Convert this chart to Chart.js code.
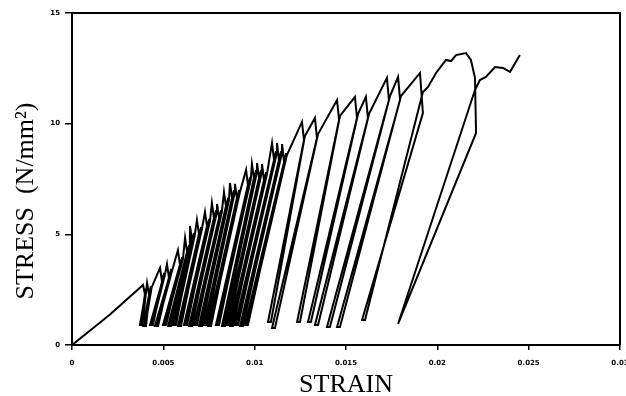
<!DOCTYPE html>
<html>
<head>
<meta charset="utf-8">
<script src="https://cdn.jsdelivr.net/npm/chart.js@4.4.1/dist/chart.umd.min.js"></script>
<style>
  body { margin: 0; background: #fff; }
  #wrap { width: 626px; height: 396px; }
</style>
</head>
<body>
<div id="wrap"><canvas id="mycanvas"></canvas></div>
<script>
// strain / stress of the cyclic test, one row per load cycle
var strain = [
  0, 0.00208,
  0.00389, 0.00400, 0.00372, 0.00383, 0.00400, 0.00403, 0.00378, 0.00386, 0.00406,
  0.00411, 0.00422, 0.00389, 0.00405, 0.00427, 0.00432, 0.00396, 0.00402, 0.00436,
  0.00482, 0.00493, 0.00427, 0.00443, 0.00498, 0.00504, 0.00435, 0.00440, 0.00508,
  0.00520, 0.00531, 0.00454, 0.00471, 0.00537, 0.00543, 0.00462, 0.00467, 0.00547,
  0.00580, 0.00591, 0.00498, 0.00515, 0.00597, 0.00603, 0.00506, 0.00511, 0.00607,
  0.00619, 0.00630, 0.00526, 0.00542, 0.00635, 0.00641, 0.00534, 0.00539, 0.00645,
  0.00646, 0.00657, 0.00553, 0.00569, 0.00662, 0.00668, 0.00561, 0.00566, 0.00672,
  0.00684, 0.00695, 0.00580, 0.00597, 0.00701, 0.00707, 0.00588, 0.00593, 0.00711,
  0.00728, 0.00739, 0.00613, 0.00630, 0.00745, 0.00751, 0.00621, 0.00626, 0.00755,
  0.00766, 0.00777, 0.00641, 0.00657, 0.00783, 0.00789, 0.00649, 0.00654, 0.00793,
  0.00794, 0.00805, 0.00668, 0.00684, 0.00810, 0.00816, 0.00676, 0.00681, 0.00820,
  0.00832, 0.00843, 0.00695, 0.00712, 0.00849, 0.00855, 0.00703, 0.00708, 0.00859,
  0.00865, 0.00876, 0.00723, 0.00739, 0.00881, 0.00887, 0.00731, 0.00736, 0.00891,
  0.00892, 0.00903, 0.00745, 0.00761, 0.00909, 0.00915, 0.00753, 0.00758, 0.00919,
  0.00953, 0.00963, 0.00788, 0.00805, 0.00969, 0.00975, 0.00796, 0.00801, 0.00979,
  0.00985, 0.00996, 0.00821, 0.00838, 0.01002, 0.01008, 0.00829, 0.00834, 0.01012,
  0.01013, 0.01024, 0.00843, 0.00859, 0.01029, 0.01035, 0.00851, 0.00856, 0.01039,
  0.01040, 0.01051, 0.00865, 0.00881, 0.01057, 0.01063, 0.00873, 0.00878, 0.01067,
  0.01095, 0.01106, 0.00892, 0.00909, 0.01111, 0.01117, 0.00900, 0.00905, 0.01121,
  0.01122, 0.01133, 0.00920, 0.00936, 0.01139, 0.01145, 0.00928, 0.00933, 0.01149,
  0.01150, 0.01161, 0.00947, 0.00963, 0.01166, 0.01172, 0.00955, 0.00960, 0.01176,
  0.01259, 0.01270, 0.01073, 0.01089, 0.01275,
  0.01330, 0.01341, 0.01095, 0.01111, 0.01347,
  0.01451, 0.01462, 0.01232, 0.01248, 0.01467,
  0.01549, 0.01560, 0.01292, 0.01308, 0.01566,
  0.01609, 0.01620, 0.01330, 0.01347, 0.01626,
  0.01724, 0.01735, 0.01396, 0.01412, 0.01741,
  0.01785, 0.01796, 0.01451, 0.01467, 0.01801,
  0.01905, 0.01921, 0.01588, 0.01604, 0.01921,
  0.01949, 0.01993, 0.02047, 0.02075, 0.02102, 0.02157, 0.02184, 0.02206, 0.02212,
  0.01785, 0.02206, 0.02233, 0.02266, 0.02316, 0.02359, 0.02398, 0.02452
];
var stress = [
  0, 1.38,
  2.71, 2.26, 0.90, 0.90, 2.39, 2.55, 0.95, 0.95, 2.45,
  2.80, 2.26, 0.86, 0.86, 2.49, 2.65, 0.92, 0.92, 2.60,
  3.48, 2.85, 0.90, 0.90, 3.03, 3.25, 0.92, 0.92, 3.15,
  3.66, 3.03, 0.86, 0.86, 3.21, 3.43, 0.88, 0.88, 3.33,
  4.29, 3.62, 0.90, 0.90, 3.75, 3.97, 0.92, 0.92, 3.87,
  4.84, 4.20, 0.86, 0.86, 4.29, 4.51, 0.88, 0.88, 4.41,
  5.38, 4.74, 0.90, 0.90, 4.84, 5.06, 0.92, 0.92, 4.96,
  5.65, 5.02, 0.86, 0.86, 5.11, 5.33, 0.88, 0.88, 5.23,
  6.01, 5.38, 0.90, 0.90, 5.47, 5.69, 0.92, 0.92, 5.59,
  6.42, 5.74, 0.86, 0.86, 5.87, 6.09, 0.88, 0.88, 5.99,
  6.37, 5.74, 0.90, 0.90, 5.87, 6.09, 0.92, 0.92, 5.99,
  6.91, 6.28, 0.86, 0.86, 6.42, 6.64, 0.88, 0.88, 6.54,
  7.32, 6.64, 0.90, 0.90, 6.78, 7.00, 0.92, 0.92, 6.90,
  7.28, 6.64, 0.86, 0.86, 6.78, 7.00, 0.88, 0.88, 6.90,
  7.91, 7.23, 0.90, 0.90, 7.37, 7.59, 0.92, 0.92, 7.49,
  8.18, 7.55, 0.86, 0.86, 7.68, 7.90, 0.88, 0.88, 7.80,
  8.22, 7.55, 0.90, 0.90, 7.68, 7.90, 0.92, 0.92, 7.80,
  8.18, 7.46, 0.86, 0.86, 7.59, 7.81, 0.88, 0.88, 7.71,
  9.13, 8.36, 0.90, 0.90, 8.54, 8.76, 0.92, 0.92, 8.66,
  9.13, 8.36, 0.86, 0.86, 8.54, 8.76, 0.88, 0.88, 8.66,
  9.08, 8.27, 0.90, 0.90, 8.45, 8.67, 0.92, 0.92, 8.57,
  10.08, 9.26, 1.04, 1.04, 9.44,
  10.26, 9.35, 0.77, 0.77, 9.53,
  11.07, 10.17, 1.04, 1.04, 10.35,
  11.21, 10.26, 1.04, 1.04, 10.44,
  11.21, 10.26, 0.90, 0.90, 10.44,
  12.07, 11.07, 0.81, 0.81, 11.25,
  12.11, 11.07, 0.81, 0.81, 11.25,
  12.29, 10.48, 1.13, 1.13, 11.43,
  11.66, 12.29, 12.88, 12.83, 13.10, 13.19, 12.88, 12.07, 9.58,
  0.95, 11.52, 11.97, 12.11, 12.56, 12.52, 12.34, 13.10
];
var xTickLabels = ['0', '0.005', '0.01', '0.015', '0.02', '0.025', '0.03'];
var yTickLabels = ['0', '5', '10', '15'];
var xTitle = 'STRAIN';
var yTitle = 'STRESS  (N/mm\u00b2)';

var points = [];
for (var i in strain) {
  points.push({ x: strain[i], y: stress[i] });
}

var tickFont = { family: 'DejaVu Sans', size: 7, weight: 'bold' };

// closes the box and writes the two axis titles
var framePlugin = {
  id: 'frame',
  afterDraw: function(chart) {
    var ctx = chart.ctx, a = chart.chartArea;
    ctx.save();
    ctx.strokeStyle = '#000';
    ctx.lineWidth = 2;
    ctx.beginPath();
    ctx.moveTo(a.left, a.top);
    ctx.lineTo(a.right, a.top);
    ctx.lineTo(a.right, a.bottom);
    ctx.stroke();

    ctx.fillStyle = '#000';
    ctx.font = '26px "Liberation Serif"';
    ctx.textAlign = 'center';
    ctx.textBaseline = 'alphabetic';
    ctx.fillText(xTitle, (a.left + a.right) / 2, 392);

    ctx.translate(33, 201);
    ctx.rotate(-Math.PI / 2);
    ctx.fillText(yTitle, 0, 0);
    ctx.restore();
  }
};

var ctx = document.getElementById('mycanvas');
var stressChart = new Chart(ctx, {
  type: 'scatter',
  data: {
    datasets: [{
      label: 'stress-strain',
      data: points,
      showLine: true,
      borderColor: '#000',
      borderWidth: 2,
      pointRadius: 0,
      tension: 0,
      fill: false
    }]
  },
  options: {
    responsive: true,
    maintainAspectRatio: false,
    animation: false,
    layout: { padding: { top: 13, right: 6, left: 0, bottom: 0 } },
    plugins: {
      legend: { display: false },
      tooltip: { enabled: false }
    },
    scales: {
      x: {
        type: 'linear',
        min: 0,
        max: 0.03,
        afterFit: function(scale) {
          scale.height = 51;
          scale.paddingLeft = 0;
          scale.paddingRight = 0;
        },
        border: { display: true, color: '#000', width: 2 },
        grid: { display: true, drawOnChartArea: false, color: '#000', lineWidth: 1.5, tickLength: 5 },
        ticks: {
          stepSize: 0.005,
          padding: 9,
          color: '#000',
          font: tickFont,
          maxRotation: 0,
          callback: function(v, i) { return xTickLabels[i]; }
        }
      },
      y: {
        type: 'linear',
        min: 0,
        max: 15,
        afterFit: function(scale) {
          scale.width = 72;
          scale.paddingTop = 0;
          scale.paddingBottom = 0;
        },
        border: { display: true, color: '#000', width: 2 },
        grid: { display: true, drawOnChartArea: false, color: '#000', lineWidth: 1.5, tickLength: 7 },
        ticks: {
          stepSize: 5,
          padding: 5,
          color: '#000',
          font: tickFont,
          callback: function(v, i) { return yTickLabels[i]; }
        }
      }
    }
  },
  plugins: [framePlugin]
});
</script>
</body>
</html>
